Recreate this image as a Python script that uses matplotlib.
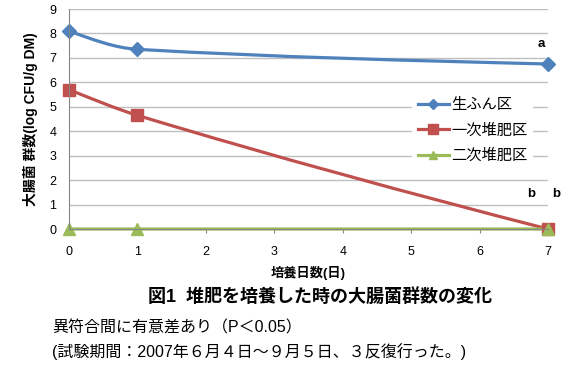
import matplotlib
matplotlib.use("Agg")
import matplotlib.pyplot as plt
from matplotlib.path import Path
from matplotlib.patches import PathPatch
from matplotlib.lines import Line2D

plt.rcParams['font.family'] = ['Liberation Sans', 'Noto Sans CJK JP', 'DejaVu Sans']

# data
days = [0, 1, 7]
series_names = ["生ふん区", "一次堆肥区", "二次堆肥区"]
raw = [8.1, 7.35, 6.75]        # 生ふん区
first = [5.7, 4.65, 0.0]       # 一次堆肥区
second = [0.0, 0.0, 0.0]       # 二次堆肥区
# slopes used for the smoothed (excel-like) lines at each point
raw_slopes = [-1.0, -0.16, -0.07]
first_slopes = [-1.1, -0.85, -0.72]
second_slopes = [0.0, 0.0, 0.0]
sig_labels = [("a", 6.9, 7.55), ("b", 6.75, 1.45), ("b", 7.12, 1.45)]

colors = ["#4F81BD", "#C0504D", "#9BBB59"]
markers = ["D", "s", "^"]
msizes = [7, 9, 8]


def smooth_path(xs, ys, ms):
    verts = [(xs[0], ys[0])]
    codes = [Path.MOVETO]
    for i in range(len(xs) - 1):
        h = xs[i + 1] - xs[i]
        verts += [(xs[i] + h / 3, ys[i] + ms[i] * h / 3),
                  (xs[i + 1] - h / 3, ys[i + 1] - ms[i + 1] * h / 3),
                  (xs[i + 1], ys[i + 1])]
        codes += [Path.CURVE4] * 3
    return Path(verts, codes)


fig = plt.figure(figsize=(5.88, 3.66), dpi=100)
ax = fig.add_axes([69 / 588, 1 - 229 / 366, (548 - 69) / 588, 220 / 366])
ax.set_xlim(0, 7)
ax.set_ylim(0, 9)

ax.set_yticks(range(10))
ax.set_xticks(range(8))
ax.grid(axis="y", color="#BFBFBF", lw=1)
ax.set_axisbelow(True)
for s in ["top", "right"]:
    ax.spines[s].set_visible(False)
ax.spines["left"].set_color("#868686")
ax.spines["bottom"].set_color("#868686")
ax.tick_params(axis="y", length=0, pad=9, labelsize=9)
ax.tick_params(axis="x", length=3, pad=9, labelsize=9, color="#868686")

all_y = [raw, first, second]
all_m = [raw_slopes, first_slopes, second_slopes]
handles = []
for ys, ms, c, mk, sz, name in zip(all_y, all_m, colors, markers, msizes, series_names):
    p = PathPatch(smooth_path(days, ys, ms), fill=False, edgecolor=c, lw=2.3,
                  clip_on=False, capstyle="round")
    ax.add_patch(p)
    ax.plot(days, ys, ls="none", marker=mk, ms=sz, color=c, clip_on=False)
    handles.append(Line2D([], [], color=c, lw=2.3, marker=mk, ms=sz * 0.8))

leg = fig.legend(handles, series_names, loc="upper left",
                 bbox_to_anchor=(412 / 588, 1 - 92 / 366), fontsize=11,
                 frameon=True, edgecolor="none", facecolor="white", framealpha=1,
                 handlelength=2.0, labelspacing=0.72, fancybox=False,
                 borderaxespad=0, handletextpad=0.15)

for t, x, y in sig_labels:
    ax.text(x, y, t, fontsize=9.5, fontweight="bold", ha="center", va="center")

ax.set_ylabel("大腸菌 群数(log CFU/g DM)", fontsize=10, fontweight="bold", labelpad=8)
ax.set_xlabel("培養日数(日)", fontsize=9.5, fontweight="bold", labelpad=6)

fig.text(320 / 588, 1 - 297 / 366, "図1  堆肥を培養した時の大腸菌群数の変化",
         fontsize=13, fontweight="bold", ha="center", va="center")
fig.text(52 / 588, 1 - 328 / 366, "異符合間に有意差あり（P＜0.05）",
         fontsize=11.5, ha="left", va="center")
fig.text(52 / 588, 1 - 352 / 366, "(試験期間：2007年６月４日～９月５日、３反復行った。)",
         fontsize=11.5, ha="left", va="center")

fig.savefig("out.png", dpi=100)
